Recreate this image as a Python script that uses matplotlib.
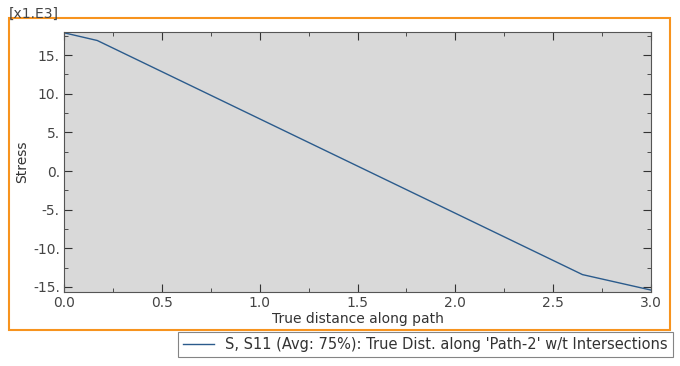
# Stress along path (Abaqus-style XY plot)
import matplotlib.pyplot as plt
from matplotlib.patches import Rectangle
from matplotlib.ticker import MultipleLocator, FuncFormatter

# data (stress in x1.E3)
distance = [0.0, 0.17, 2.65, 3.0]
stress = [17.9, 16.9, -13.4, -15.4]
series_label = "S, S11 (Avg: 75%): True Dist. along 'Path-2' w/t Intersections"

plt.rcParams['font.family'] = ['DejaVu Sans']
fs = 10

fig = plt.figure(figsize=(6.8, 3.66), dpi=100)
ax = fig.add_axes([64 / 680, 74 / 366, 587 / 680, 260 / 366])
ax.set_facecolor('#d9d9d9')

line, = ax.plot(distance, stress, color='#2b5b8c', linewidth=1, label=series_label)

ax.set_xlim(0, 3.0)
ax.set_ylim(-15.65, 18.0)
ax.xaxis.set_major_locator(MultipleLocator(0.5))
ax.xaxis.set_minor_locator(MultipleLocator(0.25))
ax.yaxis.set_major_locator(MultipleLocator(5))
ax.yaxis.set_minor_locator(MultipleLocator(2.5))
ax.xaxis.set_major_formatter(FuncFormatter(lambda v, p: f"{v:.1f}"))
ax.yaxis.set_major_formatter(FuncFormatter(lambda v, p: f"{v:.0f}."))
ax.tick_params(which='both', direction='in', top=True, right=True,
               colors='#333333', labelcolor='#444444', labelsize=fs)
ax.tick_params(which='major', length=6, pad=3)
ax.tick_params(which='minor', length=3)
for s in ax.spines.values():
    s.set_color('#555555')
    s.set_linewidth(0.8)

ax.set_xlabel("True distance along path", fontsize=fs, color='#333333', labelpad=1)
ax.set_ylabel("Stress", fontsize=fs, color='#333333', labelpad=3)
fig.text(9 / 680, 1 - 14 / 366, "[x1.E3]", fontsize=fs, color='#444444',
         va='center', ha='left')

# orange frame around the plot
fig.patches.append(Rectangle((9 / 680, 36 / 366), 661 / 680, 312 / 366,
                             transform=fig.transFigure, fill=False,
                             edgecolor='#f7931e', linewidth=1.5))

leg = fig.legend(handles=[line], loc='upper right',
                 bbox_to_anchor=(673 / 680, 1 - 332 / 366),
                 fancybox=False, edgecolor='#666666', fontsize=10.5,
                 handlelength=2.1, handletextpad=0.8, borderpad=0.35,
                 borderaxespad=0)
leg.get_frame().set_linewidth(0.8)
for t in leg.get_texts():
    t.set_color('#333333')

fig.savefig("out.png", dpi=100)
